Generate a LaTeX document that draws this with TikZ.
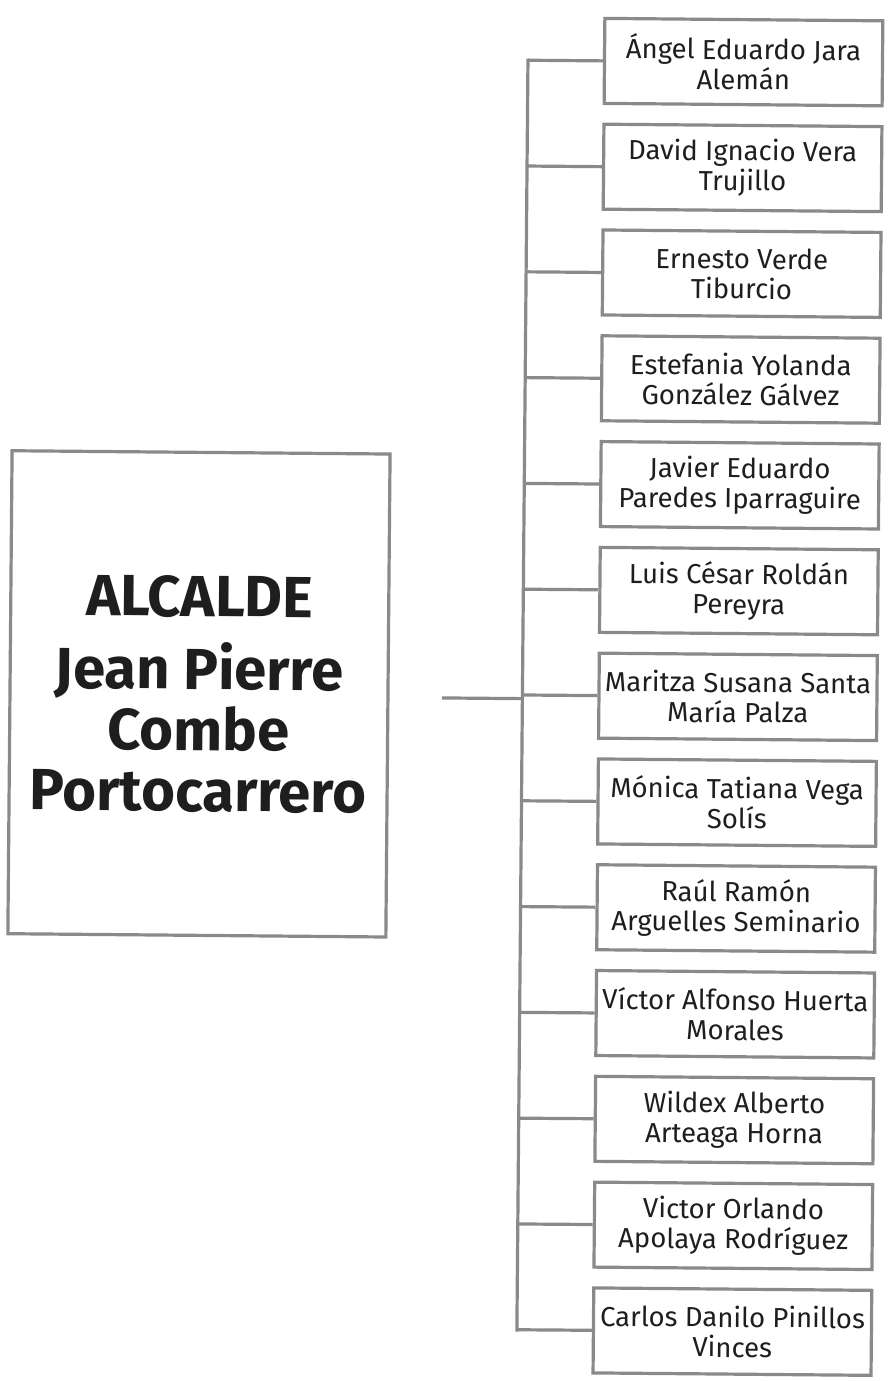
\documentclass[tikz,border=0pt]{standalone}
\usepackage{fontspec}
\setmainfont{Fira Sans}
\definecolor{linegray}{HTML}{8A8A8A}
\definecolor{txt}{HTML}{1E1E1E}
\tikzset{
  conn/.style={draw=linegray, line width=3.2pt},
  person/.style={draw=linegray, line width=3.2pt, fill=white, minimum width=278pt, minimum height=85pt,
     inner sep=0pt, align=center, text=txt, font=\fontsize{27.5}{30}\selectfont},
  chief/.style={draw=linegray, line width=3.2pt, fill=white, minimum width=378pt, minimum height=483pt,
     inner sep=0pt, align=center, text=txt, font=\bfseries\fontsize{58}{61}\selectfont},
}
\begin{document}
\begin{tikzpicture}[x=1pt,y=-1pt]
\useasboundingbox (0,0) rectangle (889,1381);
\begin{scope}[rotate around={-0.5:(444,690)}, transform shape]
\node[chief] (alc) at (199,696) {ALCALDE\\[12pt]Jean Pierre\\Combe\\Portocarrero};
\coordinate (top) at (522.5,59.5);
\coordinate (bot) at (522.5,1329.5);
\coordinate (mid) at (522.5,698);
\coordinate (stub) at (442,698);
\foreach \i/\a/\b in {
 0/Ángel Eduardo Jara/Alemán,
 1/David Ignacio Vera/Trujillo,
 2/Ernesto Verde/Tiburcio,
 3/Estefania Yolanda/González Gálvez,
 4/Javier Eduardo/Paredes Iparraguire,
 5/Luis César Roldán/Pereyra,
 6/Maritza Susana Santa/María Palza,
 7/Mónica Tatiana Vega/Solís,
 8/Raúl Ramón/Arguelles Seminario,
 9/Víctor Alfonso Huerta/Morales,
 10/Wildex Alberto/Arteaga Horna,
 11/Victor Orlando/Apolaya Rodríguez,
 12/Carlos Danilo Pinillos/Vinces}{
  \node[person] (p\i) at (738,59.5+105.8*\i) {\a\\\b};
  \draw[conn] (p\i.west) -- (522.5,59.5+105.8*\i);
}
\draw[conn, line cap=rect] (top) -- (bot);
\draw[conn] (stub) -- (mid);
\end{scope}
\end{tikzpicture}
\end{document}
